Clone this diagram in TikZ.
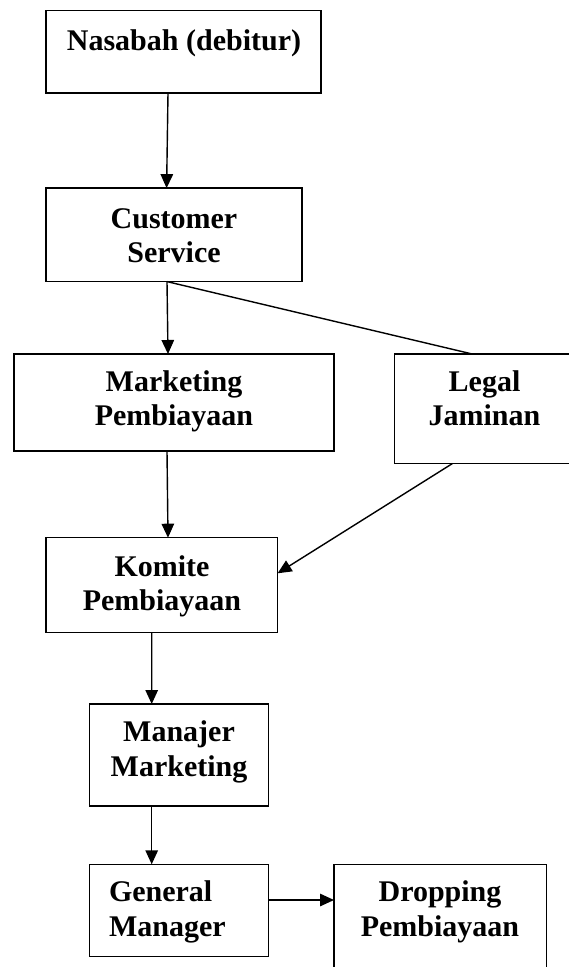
\documentclass[tikz,border=0pt]{standalone}
\usepackage{fontspec}
\setmainfont{Liberation Serif}
\usetikzlibrary{arrows.meta}
\tikzset{
  box/.style={draw=black, line width=1.4pt, rectangle, inner sep=0pt, outer sep=0pt},
  lbl/.style={inner sep=0pt, outer sep=0pt, anchor=base, font=\fontsize{30}{34.5}\selectfont\bfseries},
  lbll/.style={lbl, anchor=base west},
  conn/.style={draw=black, line width=1.4pt},
  arr/.style={conn, -{Triangle[length=14pt,width=12.5pt]}}
}
\newcommand{\twol}[2]{\begin{tabular}[t]{@{}c@{}}#1\\#2\end{tabular}}
\newcommand{\twoll}[2]{\begin{tabular}[t]{@{}l@{}}#1\\#2\end{tabular}}
\begin{document}
\begin{tikzpicture}[x=1pt, y=-1pt]
\path[use as bounding box, clip] (0,0) rectangle (569,967);
\fill[white] (0,0) rectangle (569,967);
% boxes
\node[box, minimum width=275pt, minimum height=82.5pt] (nas) at (183.5,51.75) {};
\node[box, minimum width=256pt, minimum height=93.5pt] (cs) at (174,234.85) {};
\node[box, minimum width=320pt, minimum height=97pt] (mkt) at (174,402.5) {};
\node[box, minimum width=177.5pt, minimum height=109.5pt] (legal) at (483.25,408.75) {};
\node[box, minimum width=231.6pt, minimum height=95pt] (kom) at (161.8,585.2) {};
\node[box, minimum width=179pt, minimum height=102pt] (man) at (179.1,755) {};
\node[box, minimum width=179pt, minimum height=92.4pt] (gm) at (179.1,910.5) {};
\node[box, minimum width=212.5pt, minimum height=110.7pt] (drop) at (440.25,919.65) {};
% labels
\node[lbl] (tnas) at (184,50) {Nasabah (debitur)};
\node[lbl] (tcs) at (174,228) {\twol{Customer}{Service}};
\node[lbl] (tmkt) at (174,391) {\twol{Marketing}{Pembiayaan}};
\node[lbl] (tlegal) at (484.5,391) {\twol{Legal}{Jaminan}};
\node[lbl] (tkom) at (162,576) {\twol{Komite}{Pembiayaan}};
\node[lbl] (tman) at (179,741.7) {\twol{Manajer}{Marketing}};
\node[lbll] (tgm) at (109,901.7) {\twoll{General}{Manager}};
\node[lbl] (tdrop) at (440,901.7) {\twol{Dropping}{Pembiayaan}};
% connectors
\draw[arr] ([xshift=-15.5pt]nas.south) -- ([xshift=-7.4pt]cs.north);
\draw[arr] ([xshift=-7pt]cs.south) -- ([xshift=-6pt]mkt.north);
\draw[conn] ([xshift=-7pt]cs.south) -- ([xshift=-11pt]legal.north);
\draw[arr] ([xshift=-7pt]mkt.south) -- ([xshift=6.2pt]kom.north);
\draw[arr] ([xshift=-30.75pt]legal.south) -- ([yshift=11.9pt]kom.east);
\draw[arr] ([xshift=-10.1pt]kom.south) -- ([xshift=-27.4pt]man.north);
\draw[arr] ([xshift=-27.4pt]man.south) -- ([xshift=-27.4pt]gm.north);
\draw[arr] ([yshift=10.5pt]gm.east) -- ([yshift=19.65pt]drop.west);
\end{tikzpicture}
\end{document}
